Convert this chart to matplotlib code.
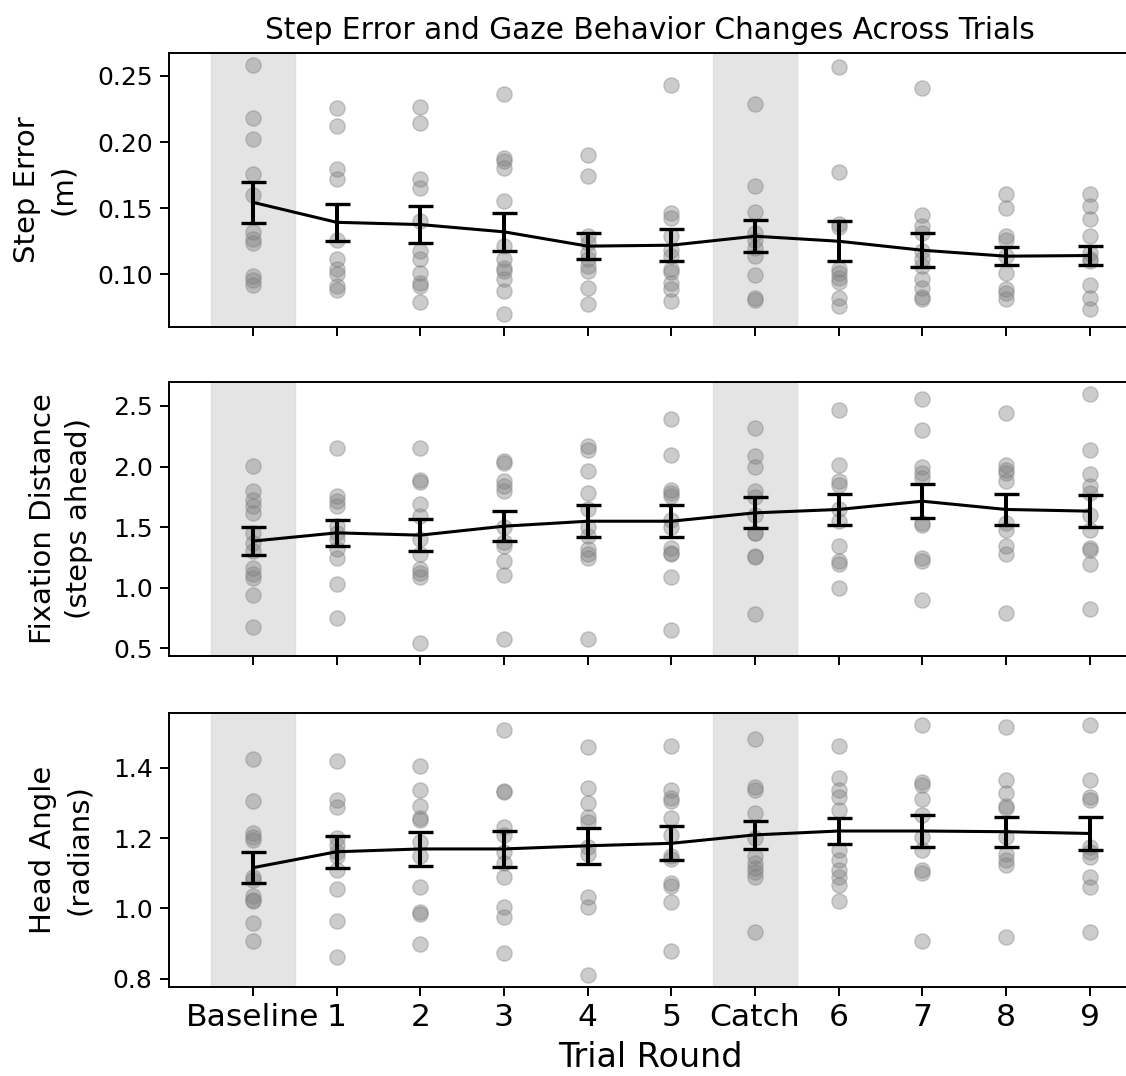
import matplotlib
matplotlib.use("Agg")
import matplotlib.pyplot as plt

categories = ["Baseline", "1", "2", "3", "4", "5", "Catch", "6", "7", "8", "9"]

step_error_points = [
    [0.258, 0.218, 0.202, 0.176, 0.160, 0.132, 0.127, 0.124, 0.099, 0.096, 0.092],
    [0.2257, 0.2123, 0.1797, 0.1721, 0.1264, 0.1118, 0.1038, 0.100, 0.0912, 0.0882],
    [0.2269, 0.2143, 0.1721, 0.1653, 0.1402, 0.1176, 0.1113, 0.1013, 0.0937, 0.0912, 0.0791],
    [0.2365, 0.188, 0.1855, 0.1804, 0.1553, 0.1214, 0.1113, 0.105, 0.1025, 0.0962, 0.0874, 0.0698],
    [0.1905, 0.1742, 0.1289, 0.124, 0.1163, 0.112, 0.1063, 0.1025, 0.090, 0.0779],
    [0.2432, 0.1465, 0.1427, 0.1289, 0.1188, 0.1138, 0.104, 0.102, 0.0937, 0.0887, 0.0799],
    [0.2287, 0.1666, 0.147, 0.1314, 0.1264, 0.120, 0.1138, 0.0992, 0.082, 0.081],
    [0.257, 0.1771, 0.138, 0.136, 0.104, 0.1013, 0.0975, 0.094, 0.0824, 0.0761],
    [0.2407, 0.1452, 0.1364, 0.1314, 0.118, 0.1113, 0.1063, 0.0962, 0.090, 0.0832, 0.0817],
    [0.161, 0.1503, 0.1289, 0.126, 0.1138, 0.101, 0.0887, 0.086, 0.0812],
    [0.161, 0.1515, 0.142, 0.1289, 0.1163, 0.112, 0.110, 0.0917, 0.0824, 0.0741],
]
step_error_mean = [0.1545, 0.1394, 0.1377, 0.1322, 0.1214, 0.1221, 0.1289, 0.1251, 0.1183, 0.1138, 0.1143]
step_error_sem = [0.0155, 0.0142, 0.0142, 0.0144, 0.0101, 0.0119, 0.0120, 0.0153, 0.0130, 0.0069, 0.0075]

fixation_points = [
    [2.008, 1.797, 1.728, 1.673, 1.613, 1.45, 1.37, 1.30, 1.165, 1.11, 1.082, 0.937, 0.676],
    [2.154, 1.761, 1.714, 1.673, 1.508, 1.45, 1.40, 1.316, 1.247, 1.033, 0.753],
    [2.154, 1.885, 1.87, 1.687, 1.59, 1.40, 1.275, 1.157, 1.124, 1.09, 0.541],
    [2.044, 2.03, 1.879, 1.838, 1.797, 1.50, 1.38, 1.343, 1.22, 1.102, 0.574],
    [2.167, 2.14, 1.961, 1.783, 1.65, 1.50, 1.426, 1.316, 1.28, 1.247, 0.574],
    [2.393, 2.099, 1.81, 1.78, 1.755, 1.563, 1.50, 1.33, 1.29, 1.275, 1.088, 0.648],
    [2.319, 2.085, 2.00, 1.797, 1.75, 1.60, 1.453, 1.45, 1.261, 1.25, 0.78],
    [2.47, 2.016, 1.879, 1.85, 1.65, 1.55, 1.343, 1.22, 1.20, 1.00],
    [2.558, 2.305, 1.997, 1.95, 1.907, 1.536, 1.52, 1.247, 1.22, 0.896],
    [2.442, 2.016, 1.975, 1.948, 1.88, 1.536, 1.48, 1.343, 1.275, 0.794],
    [2.602, 2.14, 1.94, 1.838, 1.78, 1.60, 1.48, 1.33, 1.315, 1.192, 0.821],
]
fixation_mean = [1.385, 1.453, 1.434, 1.508, 1.549, 1.549, 1.618, 1.646, 1.714, 1.646, 1.632]
fixation_sem = [0.118, 0.110, 0.133, 0.124, 0.131, 0.131, 0.127, 0.128, 0.140, 0.125, 0.133]

head_points = [
    [1.424, 1.306, 1.213, 1.202, 1.195, 1.09, 1.08, 1.035, 1.025, 1.02, 0.959, 0.908],
    [1.42, 1.308, 1.289, 1.20, 1.18, 1.16, 1.15, 1.109, 1.055, 0.964, 0.863],
    [1.405, 1.337, 1.291, 1.256, 1.25, 1.19, 1.15, 1.062, 0.99, 0.985, 0.898],
    [1.507, 1.335, 1.33, 1.232, 1.21, 1.16, 1.13, 1.09, 1.005, 0.976, 0.872],
    [1.46, 1.341, 1.30, 1.261, 1.245, 1.175, 1.155, 1.033, 1.005, 0.81],
    [1.462, 1.337, 1.313, 1.305, 1.256, 1.21, 1.15, 1.14, 1.071, 1.065, 1.019, 0.88],
    [1.481, 1.344, 1.338, 1.27, 1.20, 1.15, 1.13, 1.114, 1.104, 1.09, 0.934],
    [1.462, 1.37, 1.337, 1.318, 1.28, 1.166, 1.137, 1.109, 1.09, 1.066, 1.021],
    [1.521, 1.36, 1.35, 1.311, 1.265, 1.204, 1.166, 1.108, 1.10, 0.908],
    [1.517, 1.365, 1.327, 1.292, 1.285, 1.204, 1.156, 1.137, 1.123, 0.918],
    [1.521, 1.365, 1.318, 1.308, 1.175, 1.16, 1.147, 1.09, 1.062, 0.934],
]
head_mean = [1.1157, 1.161, 1.169, 1.169, 1.178, 1.185, 1.209, 1.220, 1.220, 1.218, 1.213]
head_sem = [0.0435, 0.046, 0.0475, 0.051, 0.0515, 0.048, 0.040, 0.038, 0.046, 0.043, 0.0465]

panels = [
    ("Step Error\n(m)", step_error_points, step_error_mean, step_error_sem,
     (0.0605, 0.2676), [0.10, 0.15, 0.20, 0.25], "{:.2f}"),
    ("Fixation Distance\n(steps ahead)", fixation_points, fixation_mean, fixation_sem,
     (0.437, 2.70), [0.5, 1.0, 1.5, 2.0, 2.5], "{:.1f}"),
    ("Head Angle\n(radians)", head_points, head_mean, head_sem,
     (0.7772, 1.5565), [0.8, 1.0, 1.2, 1.4], "{:.1f}"),
]

shaded = ["Baseline", "Catch"]

W, H = 1126, 1076
fig = plt.figure(figsize=(W / 100, H / 100), dpi=100)

left_px, right_px = 169.3, 1130.7
rows = [(52.7, 326.7), (381.7, 656.0), (712.7, 986.7)]

x_idx = list(range(len(categories)))
axes = []
for i, (ylabel, pts, means, sems, ylim, yticks, fmt) in enumerate(panels):
    top, bot = rows[i]
    ax = fig.add_axes([left_px / W, 1 - bot / H, (right_px - left_px) / W, (bot - top) / H])
    axes.append(ax)
    for name in shaded:
        c = categories.index(name)
        ax.axvspan(c - 0.5, c + 0.5, color="lightgray", alpha=0.6, zorder=0)
    for c, vals in enumerate(pts):
        ax.scatter([c] * len(vals), vals, s=120, color="gray", alpha=0.4, zorder=2)
    ax.errorbar(x_idx, means, yerr=sems, color="black", lw=2.2, elinewidth=2.9,
                capsize=9, capthick=2.4, zorder=3)
    ax.set_xlim(-1, 10.49)
    ax.set_ylim(*ylim)
    ax.set_yticks(yticks)
    ax.set_yticklabels([fmt.format(v) for v in yticks])
    ax.set_ylabel(ylabel, fontsize=21, labelpad=14, linespacing=1.4)
    ax.set_xticks(x_idx)
    for sp in ax.spines.values():
        sp.set_linewidth(1.4)
    ax.tick_params(axis="both", length=6.5, width=1.4, pad=5.5)
    ax.tick_params(axis="y", labelsize=18)
    if i < 2:
        ax.set_xticklabels([])
    else:
        ax.set_xticklabels(categories, fontsize=22.6)
        ax.set_xlabel("Trial Round", fontsize=24, labelpad=6)

axes[0].set_title("Step Error and Gaze Behavior Changes Across Trials", fontsize=21.3, pad=10)
fig.align_ylabels(axes)

fig.savefig("out.png", dpi=100)
